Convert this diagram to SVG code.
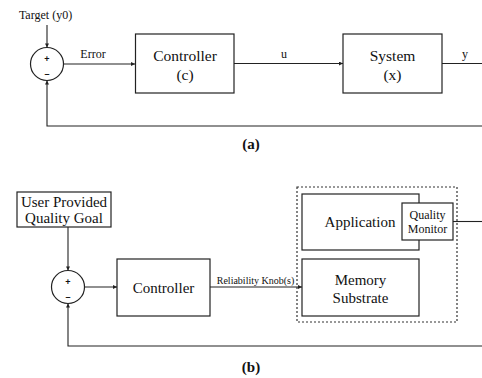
<svg xmlns="http://www.w3.org/2000/svg" width="482" height="378" viewBox="0 0 482 378">
  <style>
    .box { fill: #fff; stroke: #222; stroke-width: 1.2; }
    .sum { fill: #fff; stroke: #222; stroke-width: 1.2; }
    .wire { fill: none; stroke: #222; stroke-width: 1.1; }
    .dash { fill: none; stroke: #333; stroke-width: 1.2; stroke-dasharray: 2 2; }
    text { font-family: "Liberation Serif", "Times New Roman", serif; fill: #111; text-anchor: middle; }
    .lbl { font-size: 12px; }
    .big { font-size: 15.5px; }
    .mid { font-size: 15px; }
    .sm { font-size: 12px; }
    .knob { font-size: 10px; }
    .sign { font-size: 9px; font-weight: bold; font-family: "Liberation Sans", Arial, sans-serif; }
    .cap { font-size: 15px; font-weight: bold; }
  </style>
  <defs>
    <marker id="arrow" viewBox="0 0 6 6" refX="6" refY="3" markerWidth="5" markerHeight="4" markerUnits="userSpaceOnUse" orient="auto">
      <path d="M0,0 L6,3 L0,6 z" fill="#222"/>
    </marker>
  </defs>

  <!-- (a) classic feedback loop -->
  <g id="connectors-a">
    <line class="wire" x1="47" y1="25" x2="47" y2="47.5" marker-end="url(#arrow)"/>
    <line class="wire" x1="63.5" y1="64" x2="135" y2="64" marker-end="url(#arrow)"/>
    <line class="wire" x1="234" y1="63.5" x2="343" y2="63.5" marker-end="url(#arrow)"/>
    <line class="wire" x1="442" y1="63.5" x2="482" y2="63.5"/>
    <polyline class="wire" points="482,126 47,126 47,80.5" marker-end="url(#arrow)"/>
    <text class="lbl" x="93" y="58">Error</text>
    <text class="lbl" x="284" y="58">u</text>
    <text class="lbl" x="465" y="58">y</text>
  </g>
  <g id="target-a">
    <text class="lbl" x="45.5" y="19">Target (y0)</text>
  </g>
  <g id="sum-a">
    <circle class="sum" cx="47" cy="64" r="16.5"/>
    <text class="sign" x="47" y="62">+</text>
    <text class="sign" x="47" y="77">–</text>
  </g>
  <g id="controller-a">
    <rect class="box" x="135.5" y="34" width="98.5" height="59"/>
    <text class="big" x="185" y="61">Controller</text>
    <text class="big" x="185" y="80">(c)</text>
  </g>
  <g id="system-a">
    <rect class="box" x="343" y="34" width="99" height="59"/>
    <text class="big" x="392.5" y="61">System</text>
    <text class="big" x="392.5" y="80">(x)</text>
  </g>
  <text class="cap" x="251" y="149">(a)</text>

  <!-- (b) quality-driven reliability control -->
  <g id="connectors-b">
    <line class="wire" x1="68" y1="227" x2="68" y2="270.5" marker-end="url(#arrow)"/>
    <line class="wire" x1="84.5" y1="287" x2="117" y2="287" marker-end="url(#arrow)"/>
    <line class="wire" x1="210" y1="287" x2="302" y2="287" marker-end="url(#arrow)"/>
    <line class="wire" x1="453" y1="221.5" x2="482" y2="221.5"/>
    <polyline class="wire" points="482,346 68,346 68,303.5" marker-end="url(#arrow)"/>
    <text class="knob" x="255.5" y="284">Reliability Knob(s)</text>
  </g>
  <g id="goal-b">
    <rect class="box" x="17" y="192" width="94" height="35"/>
    <text class="mid" x="64" y="207">User Provided</text>
    <text class="mid" x="64" y="222.5">Quality Goal</text>
  </g>
  <g id="sum-b">
    <circle class="sum" cx="68" cy="287" r="16.5"/>
    <text class="sign" x="68" y="285">+</text>
    <text class="sign" x="68" y="300">–</text>
  </g>
  <g id="controller-b">
    <rect class="box" x="117" y="259" width="93" height="57"/>
    <text class="mid" x="163.5" y="292.5">Controller</text>
  </g>
  <g id="platform-b">
    <rect class="dash" x="297" y="187" width="160" height="135"/>
  </g>
  <g id="application-b">
    <rect class="box" x="302" y="194" width="117" height="56"/>
    <text class="mid" x="360" y="227">Application</text>
  </g>
  <g id="monitor-b">
    <rect class="box" x="402" y="203" width="51" height="37"/>
    <text class="sm" x="427.5" y="219">Quality</text>
    <text class="sm" x="427.5" y="233">Monitor</text>
  </g>
  <g id="memory-b">
    <rect class="box" x="302" y="259" width="117" height="57"/>
    <text class="mid" x="360.5" y="284.5">Memory</text>
    <text class="mid" x="360.5" y="303">Substrate</text>
  </g>
  <text class="cap" x="251" y="372">(b)</text>
</svg>
